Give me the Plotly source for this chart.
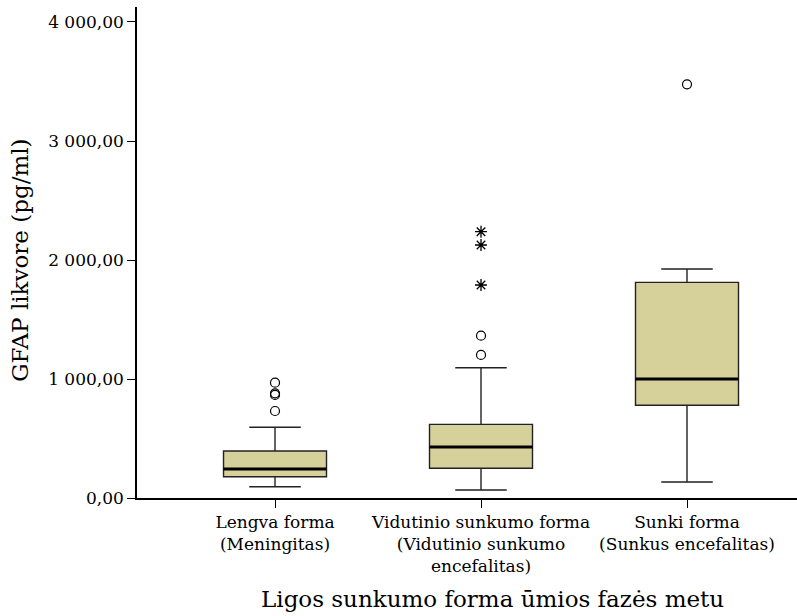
import plotly.graph_objects as go

# Group labels (x axis) and box statistics (pg/ml)
categories = [
    "Lengva forma<br>(Meningitas)",
    "Vidutinio sunkumo forma<br>(Vidutinio sunkumo<br>encefalitas)",
    "Sunki forma<br>(Sunkus encefalitas)",
]
lower_whisker = [95, 67, 134]
q1 = [179, 250, 779]
median = [244, 429, 1000]
q3 = [395, 619, 1812]
upper_whisker = [594, 1095, 1924]

# Outliers: mild (circles) and extreme (stars), per group index
outlier_group = [0, 0, 0, 0, 1, 1, 2]
outlier_value = [731, 866, 880, 969, 1202, 1364, 3476]
extreme_group = [1, 1, 1]
extreme_value = [1790, 2126, 2238]

y_tickvals = [0, 1000, 2000, 3000, 4000]
y_ticktext = ["0,00", "1 000,00", "2 000,00", "3 000,00", "4 000,00"]

y_title = "GFAP likvore (pg/ml)"
x_title = "Ligos sunkumo forma ūmios fazės metu"

FONT = "DejaVu Serif, Liberation Serif, serif"
BOX_W = 0.5
positions = list(range(len(categories)))

fig = go.Figure()

fig.add_trace(go.Box(
    x=positions,
    q1=q1, median=median, q3=q3,
    lowerfence=lower_whisker, upperfence=upper_whisker,
    boxpoints=False,
    width=BOX_W,
    whiskerwidth=0.5,
    fillcolor="#D6D19A",
    line=dict(color="#222222", width=1.4),
    hoverinfo="skip",
    showlegend=False,
))

# Thick median bars
mx, my = [], []
for p, m in zip(positions, median):
    mx += [p - BOX_W / 2, p + BOX_W / 2, None]
    my += [m, m, None]
fig.add_trace(go.Scatter(
    x=mx, y=my, mode="lines",
    line=dict(color="black", width=3),
    hoverinfo="skip", showlegend=False,
))

# Mild outliers
fig.add_trace(go.Scatter(
    x=outlier_group, y=outlier_value, mode="markers",
    marker=dict(symbol="circle-open", size=9, color="black", line=dict(width=1.2)),
    hoverinfo="skip", showlegend=False,
))

# Extreme outliers
fig.add_trace(go.Scatter(
    x=extreme_group, y=extreme_value, mode="markers",
    marker=dict(symbol="asterisk-open", size=10, color="black", line=dict(width=1.3, color="black")),
    hoverinfo="skip", showlegend=False,
))

fig.update_layout(
    width=797, height=616,
    margin=dict(l=137, r=0, t=7, b=118),
    paper_bgcolor="white", plot_bgcolor="white",
    font=dict(family=FONT, size=17, color="black"),
    xaxis=dict(
        range=[-0.67, 2.534],
        tickvals=positions, ticktext=categories,
        ticks="outside", ticklen=8, tickwidth=1.3, tickcolor="black",
        showline=True, linecolor="black", linewidth=1.5,
        showgrid=False, zeroline=False,
        tickfont=dict(family=FONT, size=17),
    ),
    yaxis=dict(
        range=[0, 4126],
        tickvals=y_tickvals, ticktext=y_ticktext,
        ticks="outside", ticklen=8, tickwidth=1.3, tickcolor="black",
        showline=True, linecolor="black", linewidth=1.5,
        showgrid=False, zeroline=False,
        tickfont=dict(family=FONT, size=17),
    ),
    annotations=[
        dict(text=y_title, xref="paper", yref="paper", x=0, y=0.483,
             xshift=-117, xanchor="center", yanchor="middle", textangle=-90,
             showarrow=False, font=dict(family=FONT, size=23)),
        dict(text=x_title, xref="paper", yref="paper", x=0.538, y=-0.206,
             xanchor="center", yanchor="middle",
             showarrow=False, font=dict(family=FONT, size=23)),
    ],
)

fig.write_html("out.html")
